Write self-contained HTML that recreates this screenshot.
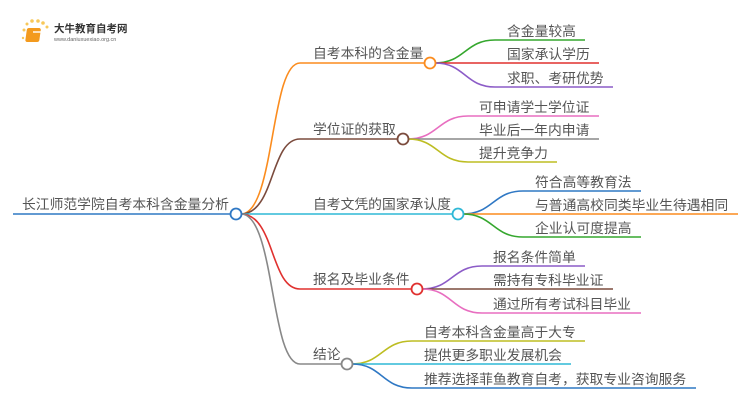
<!DOCTYPE html>
<html><head><meta charset="utf-8"><style>
html,body{margin:0;padding:0;background:#fff;}
svg text{font-family:"Liberation Sans","Noto Sans CJK SC",sans-serif;fill:#555;}
</style></head><body>
<svg width="750" height="410" viewBox="0 0 750 410" xmlns="http://www.w3.org/2000/svg">
<g>
<circle cx="24" cy="30" r="1.5" fill="#f7c85a"/><circle cx="27" cy="24" r="1.5" fill="#f7c85a"/>
<circle cx="32" cy="21" r="1.8" fill="#f7c85a"/><circle cx="38" cy="21" r="1.8" fill="#f7c85a"/>
<circle cx="43" cy="23" r="1.8" fill="#f7c85a"/><circle cx="47" cy="27" r="1.5" fill="#f7c85a"/>
<circle cx="23" cy="38" r="1.2" fill="#f7c85a"/>
<rect x="31" y="28" width="14" height="14" rx="2" fill="#f39a1e" transform="skewX(-8)"/>
<rect x="33" y="31" width="9" height="2" fill="#fff" opacity=".7"/>
<text x="54" y="32" font-size="10.5" font-weight="bold" style="fill:#333">大牛教育自考网</text>
<text x="54" y="41" font-size="5.5" style="fill:#666">www.daniuxuexiao.org.cn</text>
</g>
<g fill="none" stroke-width="1.6">
<path d="M13 214H231" stroke="#2f78c4"/>
<path d="M241 214C275 214 270 63 300 63H425" stroke="#fb8c1e"/>
<path d="M241 214C275 214 270 139 300 139H398" stroke="#7b4b3d"/>
<path d="M241 214H453" stroke="#2fb8d6"/>
<path d="M241 214C275 214 270 289 300 289H412" stroke="#e0312f"/>
<path d="M241 214C275 214 270 364 300 364H342" stroke="#888"/>
<path d="M435 63C465 63 465 40 495 40H585" stroke="#35a72e"/>
<path d="M435 63H599" stroke="#e0312f"/>
<path d="M435 63C465 63 465 87 495 87H613" stroke="#8c5cc7"/>
<path d="M408 139C438 139 438 116 468 116H599" stroke="#e86ec0"/>
<path d="M408 139H599" stroke="#888"/>
<path d="M408 139C438 139 438 162 468 162H557" stroke="#bdbd22"/>
<path d="M463 214C493 214 493 191 523 191H641" stroke="#2f78c4"/>
<path d="M463 214H738" stroke="#fb8c1e"/>
<path d="M463 214C493 214 493 237 523 237H641" stroke="#35a72e"/>
<path d="M422 289C452 289 452 266 482 266H585" stroke="#8c5cc7"/>
<path d="M422 289H613" stroke="#7b4b3d"/>
<path d="M422 289C452 289 452 313 482 313H641" stroke="#e86ec0"/>
<path d="M352 364C382 364 382 341 412 341H585" stroke="#bdbd22"/>
<path d="M352 364H571" stroke="#2fb8d6"/>
<path d="M352 364C382 364 382 388 412 388H696" stroke="#2f78c4"/>
</g>
<g fill="#fff" stroke-width="1.8">
<circle cx="236" cy="214" r="5.5" stroke="#2f78c4"/>
<circle cx="430" cy="63" r="5.5" stroke="#fb8c1e"/>
<circle cx="403" cy="139" r="5.5" stroke="#7b4b3d"/>
<circle cx="458" cy="214" r="5.5" stroke="#2fb8d6"/>
<circle cx="417" cy="289" r="5.5" stroke="#e0312f"/>
<circle cx="347" cy="364" r="5.5" stroke="#888"/>
</g>
<g font-size="13.8">
<text x="22" y="209">长江师范学院自考本科含金量分析</text>
<text x="313" y="58">自考本科的含金量</text>
<text x="313" y="134">学位证的获取</text>
<text x="313" y="209">自考文凭的国家承认度</text>
<text x="313" y="284">报名及毕业条件</text>
<text x="313" y="359">结论</text>
</g>
<g font-size="13.8">
<text x="507" y="36">含金量较高</text>
<text x="507" y="59">国家承认学历</text>
<text x="507" y="83">求职、考研优势</text>
<text x="479" y="112">可申请学士学位证</text>
<text x="479" y="135">毕业后一年内申请</text>
<text x="479" y="158">提升竞争力</text>
<text x="535" y="187">符合高等教育法</text>
<text x="535" y="210">与普通高校同类毕业生待遇相同</text>
<text x="535" y="233">企业认可度提高</text>
<text x="493" y="262">报名条件简单</text>
<text x="493" y="285">需持有专科毕业证</text>
<text x="493" y="309">通过所有考试科目毕业</text>
<text x="424" y="337">自考本科含金量高于大专</text>
<text x="424" y="360">提供更多职业发展机会</text>
<text x="424" y="384">推荐选择菲鱼教育自考，获取专业咨询服务</text>
</g>
</svg>
</body></html>
